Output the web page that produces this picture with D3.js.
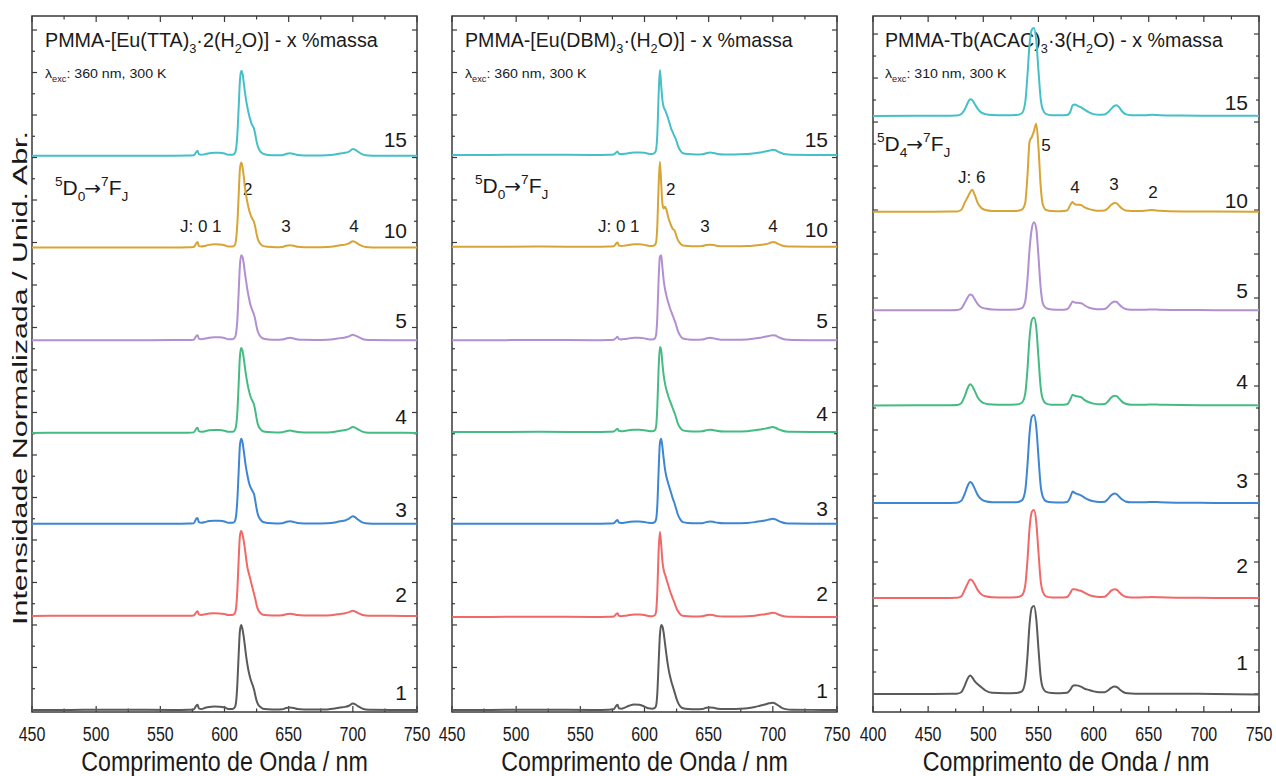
<!DOCTYPE html>
<html><head><meta charset="utf-8">
<script src="https://cdn.jsdelivr.net/npm/d3@7"></script>
<style>
body{margin:0;background:#fff}
svg{display:block}
text{font-family:"Liberation Sans",Arial,Helvetica,sans-serif;fill:#1a1a1a}
</style>
</head><body>
<svg id="c" width="1276" height="776"></svg>
<script>
// ---------- DATA ----------
const concLabels = ["1","2","3","4","5","10","15"];
const euTicks = [450,500,550,600,650,700,750];
const tbTicks = [400,450,500,550,600,650,700,750];

const wlEu = [450,480,520,560,572, 576,578,579,580,582, 585,588,592,596,600, 603,606,608,609,610,
  611,612,613,614,615, 616,617,618,619,620, 621,622,623,624,625, 626,628,630,634,640,
  645,648,651,654,657, 662,670,680,686,690, 694,697,700,702,704, 707,710,715,730,750];

// PMMA-[Eu(TTA)3·2(H2O)]
const tta1  = [0.000,0.001,0.002,0.001,0.003, 0.006,0.05,0.06,0.02,0.012, 0.025,0.035,0.04,0.038,0.03, 0.012,0.012,0.03,0.09,0.3,
  0.64,0.93,1.0,0.95,0.86, 0.74,0.62,0.52,0.44,0.38, 0.33,0.29,0.24,0.17,0.11, 0.07,0.035,0.015,0.008,0.005,
  0.008,0.022,0.028,0.022,0.01, 0.005,0.004,0.006,0.016,0.028, 0.036,0.05,0.075,0.065,0.045, 0.018,0.006,0.002,0.001,0.000];
const tta2  = [0.000,0.002,0.003,0.001,0.003, 0.006,0.045,0.055,0.02,0.012, 0.02,0.028,0.032,0.03,0.022, 0.01,0.01,0.03,0.09,0.3,
  0.65,0.94,1.0,0.96,0.88, 0.78,0.66,0.56,0.5,0.44, 0.38,0.32,0.26,0.2,0.13, 0.08,0.035,0.015,0.008,0.005,
  0.008,0.02,0.025,0.02,0.01, 0.005,0.004,0.006,0.014,0.024, 0.032,0.045,0.06,0.05,0.035, 0.015,0.005,0.002,0.001,0.000];
const tta3  = [0.000,0.001,0.002,0.001,0.003, 0.006,0.06,0.07,0.02,0.012, 0.022,0.032,0.036,0.035,0.028, 0.012,0.012,0.03,0.09,0.28,
  0.6,0.92,1.0,0.96,0.86, 0.74,0.64,0.56,0.49,0.44, 0.41,0.38,0.35,0.27,0.18, 0.11,0.05,0.022,0.01,0.005,
  0.008,0.022,0.03,0.022,0.01, 0.005,0.004,0.006,0.016,0.03, 0.04,0.06,0.09,0.075,0.05, 0.02,0.006,0.002,0.001,0.000];
const tta4  = [0.000,0.002,0.001,0.002,0.003, 0.006,0.05,0.06,0.02,0.012, 0.02,0.03,0.034,0.034,0.026, 0.012,0.012,0.03,0.08,0.24,
  0.56,0.9,1.0,0.97,0.88, 0.76,0.66,0.57,0.5,0.44, 0.4,0.37,0.33,0.26,0.17, 0.1,0.045,0.02,0.01,0.005,
  0.008,0.02,0.028,0.02,0.01, 0.005,0.004,0.006,0.014,0.026, 0.034,0.048,0.07,0.06,0.042, 0.018,0.005,0.002,0.001,0.000];
const tta5  = [0.000,0.001,0.001,0.002,0.003, 0.006,0.05,0.06,0.02,0.012, 0.02,0.03,0.035,0.034,0.026, 0.012,0.012,0.03,0.08,0.24,
  0.55,0.88,1.0,0.98,0.9, 0.78,0.68,0.58,0.5,0.43, 0.38,0.34,0.3,0.24,0.16, 0.1,0.045,0.02,0.01,0.005,
  0.008,0.02,0.028,0.02,0.01, 0.005,0.004,0.006,0.014,0.025, 0.032,0.045,0.065,0.055,0.04, 0.018,0.005,0.002,0.001,0.000];
const tta10 = [0.000,0.001,0.002,0.001,0.003, 0.006,0.05,0.065,0.02,0.012, 0.022,0.032,0.038,0.036,0.028, 0.012,0.012,0.03,0.09,0.28,
  0.6,0.92,1.0,0.95,0.84, 0.7,0.6,0.52,0.45,0.4, 0.36,0.33,0.3,0.24,0.16, 0.1,0.045,0.02,0.01,0.005,
  0.008,0.022,0.028,0.022,0.01, 0.005,0.004,0.006,0.015,0.028, 0.035,0.05,0.075,0.065,0.045, 0.02,0.006,0.002,0.001,0.000];
const tta15 = [0.000,0.002,0.001,0.002,0.003, 0.006,0.045,0.06,0.02,0.012, 0.02,0.03,0.035,0.035,0.028, 0.012,0.012,0.03,0.08,0.25,
  0.55,0.88,1.0,0.97,0.86, 0.74,0.64,0.56,0.49,0.43, 0.38,0.35,0.32,0.25,0.17, 0.11,0.05,0.025,0.01,0.006,
  0.008,0.022,0.03,0.022,0.01, 0.005,0.004,0.006,0.015,0.028, 0.035,0.05,0.08,0.07,0.05, 0.02,0.006,0.002,0.001,0.000];

// PMMA-[Eu(DBM)3·(H2O)]
const dbm1  = [0.000,0.001,0.002,0.001,0.003, 0.008,0.05,0.06,0.02,0.015, 0.03,0.05,0.065,0.06,0.04, 0.02,0.015,0.025,0.05,0.2,
  0.55,0.88,1.0,0.98,0.9, 0.78,0.66,0.55,0.46,0.39, 0.33,0.28,0.23,0.18,0.13, 0.09,0.04,0.02,0.01,0.008,
  0.01,0.025,0.03,0.025,0.015, 0.01,0.012,0.02,0.035,0.05, 0.065,0.078,0.085,0.075,0.055, 0.025,0.01,0.003,0.001,0.000];
const dbm2  = [0.000,0.001,0.002,0.001,0.003, 0.006,0.035,0.045,0.015,0.01, 0.015,0.022,0.028,0.028,0.022, 0.012,0.01,0.02,0.06,0.3,
  0.78,1.0,0.85,0.65,0.55, 0.5,0.45,0.4,0.35,0.3, 0.26,0.22,0.18,0.14,0.1, 0.07,0.03,0.015,0.008,0.005,
  0.008,0.02,0.025,0.02,0.01, 0.005,0.005,0.008,0.015,0.025, 0.032,0.042,0.05,0.045,0.032, 0.015,0.006,0.002,0.001,0.000];
const dbm3  = [0.000,0.001,0.002,0.001,0.003, 0.006,0.035,0.045,0.015,0.01, 0.015,0.022,0.028,0.028,0.022, 0.012,0.01,0.02,0.05,0.22,
  0.62,0.95,1.0,0.9,0.76, 0.64,0.56,0.5,0.45,0.4, 0.35,0.3,0.26,0.21,0.16, 0.11,0.05,0.02,0.01,0.006,
  0.008,0.02,0.028,0.022,0.012, 0.006,0.006,0.01,0.02,0.03, 0.04,0.05,0.06,0.052,0.038, 0.018,0.007,0.003,0.001,0.000];
const dbm4  = [0.000,0.001,0.002,0.001,0.003, 0.006,0.03,0.04,0.015,0.01, 0.015,0.022,0.028,0.028,0.022, 0.012,0.01,0.02,0.06,0.3,
  0.75,1.0,0.96,0.8,0.66, 0.57,0.5,0.45,0.4,0.36, 0.32,0.28,0.24,0.2,0.15, 0.1,0.045,0.02,0.01,0.006,
  0.008,0.02,0.028,0.022,0.012, 0.006,0.006,0.01,0.02,0.03, 0.04,0.05,0.058,0.05,0.035, 0.018,0.007,0.003,0.001,0.000];
const dbm5  = [0.000,0.001,0.002,0.001,0.003, 0.006,0.03,0.04,0.015,0.01, 0.015,0.022,0.028,0.028,0.022, 0.012,0.01,0.02,0.06,0.28,
  0.72,0.98,1.0,0.85,0.7, 0.6,0.53,0.47,0.42,0.37, 0.33,0.29,0.25,0.21,0.16, 0.11,0.05,0.02,0.01,0.006,
  0.008,0.02,0.028,0.022,0.012, 0.006,0.006,0.01,0.02,0.03, 0.04,0.05,0.06,0.055,0.04, 0.02,0.008,0.003,0.001,0.000];
const dbm10 = [0.000,0.001,0.002,0.001,0.003, 0.006,0.04,0.05,0.015,0.01, 0.015,0.022,0.028,0.028,0.022, 0.012,0.01,0.02,0.05,0.25,
  0.72,1.0,0.75,0.5,0.45, 0.47,0.44,0.38,0.32,0.28, 0.24,0.21,0.2,0.17,0.12, 0.08,0.035,0.015,0.008,0.005,
  0.008,0.02,0.025,0.02,0.01, 0.005,0.005,0.008,0.015,0.022, 0.03,0.04,0.055,0.05,0.035, 0.015,0.006,0.002,0.001,0.000];
const dbm15 = [0.000,0.001,0.002,0.001,0.003, 0.006,0.03,0.04,0.015,0.01, 0.015,0.022,0.028,0.03,0.025, 0.015,0.012,0.025,0.06,0.25,
  0.7,1.0,0.82,0.64,0.56, 0.53,0.49,0.45,0.4,0.35, 0.3,0.27,0.23,0.2,0.16, 0.11,0.05,0.02,0.01,0.006,
  0.008,0.02,0.028,0.022,0.012, 0.006,0.006,0.01,0.02,0.03, 0.04,0.05,0.06,0.055,0.04, 0.02,0.008,0.003,0.001,0.000];

const wlTb = [400,440,470,476,480, 483,486,488,490,492, 495,498,502,508,520, 530,535,538,540,542,
  544,546,548,550,552, 554,557,562,570,576, 579,581,583,586,589, 592,596,600,605,610,
  613,616,619,621,623, 626,629,634,642,648, 653,660,680,710,750];

// PMMA-Tb(ACAC)3·3(H2O)
const tb1  = [0.000,0.001,0.002,0.004,0.02, 0.09,0.18,0.21,0.19,0.15, 0.11,0.08,0.04,0.015,0.01, 0.012,0.03,0.14,0.42,0.8,
  0.98,1.0,0.86,0.52,0.2, 0.07,0.025,0.012,0.01,0.015, 0.05,0.09,0.1,0.095,0.08, 0.06,0.045,0.03,0.02,0.02,
  0.04,0.07,0.085,0.08,0.06, 0.03,0.012,0.006,0.004,0.004, 0.004,0.003,0.002,0.001,-0.005];
const tb2  = [0.000,0.001,0.002,0.004,0.02, 0.09,0.17,0.21,0.2,0.16, 0.09,0.045,0.02,0.01,0.008, 0.01,0.03,0.14,0.42,0.8,
  0.98,1.0,0.87,0.53,0.2, 0.07,0.02,0.008,0.006,0.012, 0.06,0.1,0.1,0.09,0.08, 0.06,0.035,0.02,0.012,0.015,
  0.045,0.085,0.1,0.095,0.07, 0.035,0.015,0.008,0.008,0.01, 0.012,0.01,0.004,0.002,0.000];
const tb3  = [0.000,0.001,0.002,0.004,0.025, 0.1,0.2,0.24,0.22,0.17, 0.09,0.045,0.02,0.01,0.008, 0.01,0.03,0.14,0.42,0.8,
  0.98,1.0,0.87,0.53,0.2, 0.07,0.02,0.008,0.006,0.012, 0.07,0.13,0.115,0.1,0.085, 0.06,0.035,0.02,0.012,0.015,
  0.045,0.09,0.11,0.1,0.075, 0.04,0.018,0.008,0.008,0.01, 0.012,0.01,0.004,0.002,0.000];
const tb4  = [0.000,0.001,0.002,0.004,0.025, 0.1,0.2,0.24,0.22,0.17, 0.09,0.045,0.02,0.01,0.008, 0.01,0.03,0.13,0.4,0.78,
  0.97,1.0,0.89,0.55,0.21, 0.07,0.02,0.008,0.006,0.012, 0.07,0.12,0.11,0.1,0.09, 0.06,0.035,0.02,0.012,0.015,
  0.045,0.09,0.11,0.105,0.08, 0.04,0.018,0.008,0.006,0.008, 0.01,0.008,0.004,0.002,0.000];
const tb5  = [0.000,0.001,0.002,0.004,0.02, 0.08,0.15,0.18,0.17,0.13, 0.07,0.035,0.02,0.01,0.008, 0.01,0.025,0.1,0.34,0.7,
  0.93,1.0,0.93,0.62,0.26, 0.08,0.025,0.01,0.006,0.012, 0.06,0.1,0.09,0.085,0.08, 0.055,0.03,0.018,0.012,0.015,
  0.04,0.08,0.1,0.095,0.07, 0.035,0.015,0.008,0.006,0.008, 0.01,0.007,0.004,0.002,0.000];
const tb10 = [0.000,0.001,0.002,0.004,0.02, 0.1,0.17,0.22,0.25,0.2, 0.1,0.045,0.02,0.01,0.008, 0.01,0.025,0.1,0.4,0.8,
  0.85,0.92,1.0,0.74,0.3, 0.08,0.02,0.008,0.006,0.015, 0.08,0.11,0.085,0.08,0.075, 0.05,0.03,0.018,0.012,0.015,
  0.04,0.08,0.1,0.095,0.07, 0.035,0.015,0.01,0.01,0.015, 0.02,0.012,0.004,0.002,0.000];
const tb15 = [0.000,0.001,0.002,0.004,0.02, 0.07,0.15,0.19,0.18,0.14, 0.08,0.04,0.02,0.01,0.008, 0.01,0.03,0.15,0.45,0.82,
  0.98,1.0,0.86,0.52,0.2, 0.07,0.02,0.008,0.006,0.01, 0.05,0.12,0.13,0.11,0.095, 0.07,0.04,0.02,0.012,0.015,
  0.04,0.08,0.115,0.12,0.1, 0.05,0.02,0.008,0.006,0.008, 0.012,0.008,0.004,0.002,0.000];

// vertical stacking offsets (normalized intensity units), order 1,2,3,4,5,10,15
const ttaOffsets = [0, 1.106, 2.19, 3.26, 4.35, 5.44, 6.52];
const dbmOffsets = [0, 1.094, 2.19, 3.27, 4.35, 5.45, 6.53];
const tbOffsets  = [0, 1.09, 2.17, 3.28, 4.36, 5.48, 6.57];

// ---------- STYLE / LAYOUT ----------
const colors = ["#5a5a5a","#f06868","#3d86d2","#45bb84","#b28fd1","#d7a535","#45c0c9"];
const panels = [
  { x0:32, x1:417, y0:16, y1:712, xdom:[450,750], ticks:euTicks, wl:wlEu,
    series:[tta1,tta2,tta3,tta4,tta5,tta10,tta15], offsets:ttaOffsets, ydom:[-0.024,8.165],
    labelRight:407, labelDy:[10,14,7,9,12,10,9],
    title:[["PMMA-[Eu(TTA)"],["3","sub"],["·2(H"],["2","sub"],["O)] - x %massa"]], titleX:45, titleW:333,
    exc:"360", trans:[["5","sup"],["D"],["0","sub"],["→","arrow"],["7","sup"],["F"],["J","sub"]], transX:55, transY:195,
    ann:[{t:"J: 0 1",x:180,y:232,a:"start"},{t:"2",x:243,y:195,a:"start"},{t:"3",x:286,y:232,a:"middle"},{t:"4",x:354,y:232,a:"middle"}] },
  { x0:452, x1:837, y0:16, y1:712, xdom:[450,750], ticks:euTicks, wl:wlEu,
    series:[dbm1,dbm2,dbm3,dbm4,dbm5,dbm10,dbm15], offsets:dbmOffsets, ydom:[-0.024,8.165],
    labelRight:828, labelDy:[12,16,8,11,12,10,8],
    title:[["PMMA-[Eu(DBM)"],["3","sub"],["·(H"],["2","sub"],["O)] - x %massa"]], titleX:465, titleW:328,
    exc:"360", trans:[["5","sup"],["D"],["0","sub"],["→","arrow"],["7","sup"],["F"],["J","sub"]], transX:475, transY:193,
    ann:[{t:"J: 0 1",x:598,y:232,a:"start"},{t:"2",x:666,y:195,a:"start"},{t:"3",x:705,y:232,a:"middle"},{t:"4",x:773,y:232,a:"middle"}] },
  { x0:873, x1:1259, y0:16, y1:712, xdom:[400,750], ticks:tbTicks, wl:wlTb,
    series:[tb1,tb2,tb3,tb4,tb5,tb10,tb15], offsets:tbOffsets, ydom:[-0.2045,7.705],
    labelRight:1248, labelDy:[24,25,15,16,12,4,6],
    title:[["PMMA-Tb(ACAC)"],["3","sub"],["·3(H"],["2","sub"],["O) - x %massa"]], titleX:885, titleW:338,
    exc:"310", trans:[["5","sup"],["D"],["4","sub"],["→","arrow"],["7","sup"],["F"],["J","sub"]], transX:877, transY:151,
    ann:[{t:"J: 6",x:958,y:183,a:"start"},{t:"5",x:1046,y:151,a:"middle"},{t:"4",x:1075,y:193,a:"middle"},{t:"3",x:1114,y:190,a:"middle"},{t:"2",x:1153,y:198,a:"middle"}] }
];

const svg = d3.select("#c");

function rich(g, x, y, segs, size, sx, anchor) {
  const t = g.append("text")
    .attr("transform", `translate(${x},${y}) scale(${sx},1)`)
    .attr("font-size", size).attr("text-anchor", anchor || "start");
  let cur = 0;
  segs.forEach(([str, kind]) => {
    const target = kind === "sub" ? size * 0.3 : kind === "sup" ? -size * 0.42 : 0;
    const ts = t.append("tspan").attr("dy", target - cur).text(str);
    if (kind === "sub" || kind === "sup") ts.attr("font-size", size * 0.65);
    else if (kind === "arrow") ts.attr("font-size", size * 0.95).attr("dx", -1)
      .style("font-family", "'DejaVu Sans',sans-serif");
    else ts.attr("font-size", size);
    cur = target;
  });
  return t;
}

panels.forEach(p => {
  const g = svg.append("g");
  const x = d3.scaleLinear().domain(p.xdom).range([p.x0, p.x1]);
  const y = d3.scaleLinear().domain(p.ydom).range([p.y1, p.y0]);

  // texts first (lines overlay them)
  const tt = rich(g, p.titleX, 47, p.title, 21, 1, "start");
  const w = tt.node().getComputedTextLength();
  tt.attr("transform", `translate(${p.titleX},47) scale(${p.titleW / w},1)`);
  rich(g, p.titleX, 78, [["λ"],["exc","sub"],[": " + p.exc + " nm, 300 K"]], 13.5, 1.05, "start");
  const tr = rich(g, p.transX, p.transY, p.trans, 21, 1, "start");
  const trw = tr.node().getComputedTextLength();
  tr.attr("transform", `translate(${p.transX},${p.transY}) scale(${Math.min(1, 78 / trw)},1)`);
  p.ann.forEach(a => {
    g.append("text").attr("x", a.x).attr("y", a.y).attr("font-size", 17)
      .attr("text-anchor", a.a).text(a.t);
  });

  // frame
  g.append("rect").attr("x", p.x0).attr("y", p.y0).attr("width", p.x1 - p.x0).attr("height", p.y1 - p.y0)
    .attr("fill", "none").attr("stroke", "#3a3a3a").attr("stroke-width", 1.5);

  // x ticks bottom and top (every 25, major every 50)
  const minor = d3.range(p.xdom[0], p.xdom[1] + 0.1, 25);
  minor.forEach(v => {
    const major = (v % 50) === 0;
    const L = major ? 6 : 3.5;
    g.append("line").attr("x1", x(v)).attr("x2", x(v)).attr("y1", p.y1).attr("y2", p.y1 - L)
      .attr("stroke", "#3a3a3a").attr("stroke-width", 1.2);
    g.append("line").attr("x1", x(v)).attr("x2", x(v)).attr("y1", p.y0).attr("y2", p.y0 + L)
      .attr("stroke", "#3a3a3a").attr("stroke-width", 1.2);
  });
  // tick labels
  p.ticks.forEach(v => {
    g.append("text").attr("transform", `translate(${x(v)},741) scale(0.8,1)`)
      .attr("font-size", 20).attr("text-anchor", "middle").text(v);
  });
  // y ticks left & right, inward
  const yt = d3.range(0, p.ydom[1], 0.25);
  yt.forEach((v, i) => {
    const L = i % 2 === 0 ? 5 : 3;
    g.append("line").attr("x1", p.x0).attr("x2", p.x0 + L).attr("y1", y(v)).attr("y2", y(v))
      .attr("stroke", "#3a3a3a").attr("stroke-width", 1.2);
    g.append("line").attr("x1", p.x1).attr("x2", p.x1 - L).attr("y1", y(v)).attr("y2", y(v))
      .attr("stroke", "#3a3a3a").attr("stroke-width", 1.2);
  });

  // axis title
  g.append("text").attr("transform", `translate(${(p.x0 + p.x1) / 2},771) scale(0.83,1)`)
    .attr("font-size", 28).attr("text-anchor", "middle").text("Comprimento de Onda / nm");

  // spectra
  p.series.forEach((s, i) => {
    const off = p.offsets[i];
    const pts = p.wl.map((wv, k) => [wv, s[k]]);
    const line = d3.line().x(d => x(d[0])).y(d => y(d[1] + off)).curve(d3.curveMonotoneX);
    g.append("path").attr("d", line(pts)).attr("fill", "none")
      .attr("stroke", colors[i]).attr("stroke-width", 2).attr("stroke-linejoin", "round");
    g.append("text").attr("x", p.labelRight).attr("y", y(off) - p.labelDy[i])
      .attr("font-size", 21).attr("text-anchor", "end").text(concLabels[i]);
  });
});

// y axis title
svg.append("text").attr("transform", "translate(27,378) rotate(-90) scale(1.45,1)")
  .attr("font-size", 21).attr("text-anchor", "middle").text("Intensidade Normalizada / Unid. Abr.");
</script>
</body></html>
